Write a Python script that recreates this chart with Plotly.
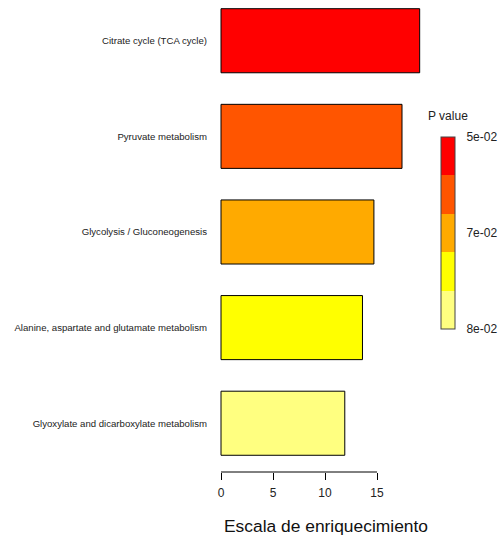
import plotly.graph_objects as go

# Pathways, top to bottom
pathways = [
    "Citrate cycle (TCA cycle)",
    "Pyruvate metabolism",
    "Glycolysis / Gluconeogenesis",
    "Alanine, aspartate and glutamate metabolism",
    "Glyoxylate and dicarboxylate metabolism",
]
enrichment = [19.1, 17.4, 14.7, 13.6, 11.9]
# significance class of each pathway (5 = most significant)
p_class = [4.5, 3.5, 2.5, 1.5, 0.5]

# colour-bar labels for the P value scale
p_tick_pos = [5, 2.5, 0]
p_tick_text = ["5e-02", "7e-02", "8e-02"]

# heat palette, least to most significant
heat = ["#FFFF80", "#FFFF00", "#FFAA00", "#FF5500", "#FF0000"]
colorscale = []
n = len(heat)
for i, c in enumerate(heat):
    colorscale.append([i / n, c])
    colorscale.append([(i + 1) / n, c])

x_ticks = [0, 5, 10, 15]

fig = go.Figure()
fig.add_trace(go.Bar(
    x=enrichment,
    y=list(range(len(pathways))),
    orientation="h",
    width=0.67,
    marker=dict(
        color=p_class,
        colorscale=colorscale,
        cmin=0,
        cmax=5,
        line=dict(color="black", width=1),
        showscale=True,
        colorbar=dict(
            x=1.0605,
            xanchor="left",
            xpad=0,
            y=0.507,
            yanchor="middle",
            ypad=0,
            lenmode="pixels",
            len=192,
            thickness=14,
            outlinecolor="#444444",
            outlinewidth=1,
            tickvals=p_tick_pos,
            ticktext=p_tick_text,
            ticks="outside",
            ticklen=9,
            tickcolor="rgba(0,0,0,0)",
            tickfont=dict(family="Liberation Sans", size=12, color="#222222"),
        ),
    ),
    hoverinfo="x+y",
))

fig.update_layout(
    width=499,
    height=537,
    margin=dict(l=213, r=71, t=0, b=65),
    plot_bgcolor="white",
    paper_bgcolor="white",
    font=dict(family="Liberation Sans", color="#222222"),
    showlegend=False,
    xaxis=dict(
        range=[-0.77, 19.9],
        tickvals=x_ticks,
        ticktext=[str(v) for v in x_ticks],
        ticks="outside",
        ticklen=7,
        tickcolor="black",
        tickwidth=1,
        ticklabelstandoff=3,
        showline=False,
        showgrid=False,
        zeroline=False,
        tickfont=dict(size=12, color="#222222"),
    ),
    yaxis=dict(
        range=[4.51, -0.426],
        tickvals=list(range(len(pathways))),
        ticktext=pathways,
        ticks="",
        ticklabelstandoff=5,
        showline=False,
        showgrid=False,
        zeroline=False,
        tickfont=dict(size=9.6, color="#222222"),
    ),
    shapes=[dict(
        type="line", xref="x", yref="paper",
        x0=x_ticks[0], x1=x_ticks[-1], y0=0, y1=0,
        line=dict(color="black", width=1),
    )],
    annotations=[
        dict(text="Escala de enriquecimiento", xref="paper", yref="paper",
             x=0.527, y=-0.115, xanchor="center", yanchor="middle",
             showarrow=False, font=dict(size=17.4, color="#111111")),
        dict(text="P value", xref="paper", yref="paper",
             x=1.093, y=0.754, xanchor="center", yanchor="middle",
             showarrow=False, font=dict(size=12, color="#222222")),
    ],
)

fig.write_html("out.html")
